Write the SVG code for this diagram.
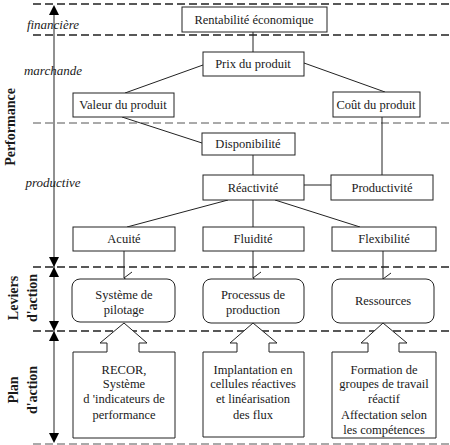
<svg xmlns="http://www.w3.org/2000/svg" width="450" height="445" viewBox="0 0 450 445" font-family="'Liberation Serif', 'DejaVu Serif', 'Times New Roman', serif">
<style>
text{font-family:'Liberation Serif','DejaVu Serif','Times New Roman',serif;fill:#1a1a1a}
.n{font-size:12.5px;text-anchor:middle}
.i{font-size:13px;font-style:italic;text-anchor:middle}
.b{font-size:14px;font-weight:bold;text-anchor:middle}
.box{fill:#fff;stroke:#222;stroke-width:1}
.ln{stroke:#222;stroke-width:1;fill:none}
.d1{stroke:#222;stroke-width:1.5;stroke-dasharray:8 4;fill:none}
.d2{stroke:#555;stroke-width:1;stroke-dasharray:8 4;fill:none}
.tri{fill:#000}
</style>
<defs>
<marker id="v" markerWidth="14" markerHeight="10" refX="7" refY="9" orient="auto-start-reverse" markerUnits="userSpaceOnUse" viewBox="0 0 14 10">
<path d="M1,1 L7,9 L13,1" fill="none" stroke="#222" stroke-width="1"/>
</marker>
</defs>
<g id="bands">
<line class="d1" x1="33" y1="4" x2="450" y2="4"/>
<line class="d1" x1="33" y1="35" x2="450" y2="35"/>
<line class="d2" x1="33" y1="123" x2="450" y2="123"/>
<line class="d1" x1="33" y1="267" x2="450" y2="267"/>
<line class="d1" x1="33" y1="331" x2="450" y2="331"/>
<line class="d2" x1="33" y1="444" x2="450" y2="444"/>
</g>
<g id="axis">
<line class="ln" x1="54" y1="12" x2="54" y2="436"/>
<path class="tri" d="M54,5 L59,15 L49,15 Z"/>
<path class="tri" d="M54,267 L59,257 L49,257 Z"/>
<path class="tri" d="M54,267 L59,277 L49,277 Z"/>
<path class="tri" d="M54,331 L59,321 L49,321 Z"/>
<path class="tri" d="M54,331 L59,341 L49,341 Z"/>
<path class="tri" d="M54,443 L59,433 L49,433 Z"/>
<text class="i" x="53" y="29">financière</text>
<text class="i" x="53" y="75">marchande</text>
<text class="i" x="53" y="187">productive</text>
<text class="b" transform="translate(15,127) rotate(-90)">Performance</text>
<text class="b" transform="translate(18,298) rotate(-90)">Leviers</text>
<text class="b" transform="translate(37,298) rotate(-90)">d'action</text>
<text class="b" transform="translate(18,390) rotate(-90)">Plan</text>
<text class="b" transform="translate(37,390) rotate(-90)">d'action</text>
</g>
<g id="connectors">
<line class="ln" x1="253" y1="32" x2="253" y2="52"/>
<line class="ln" x1="203" y1="65" x2="125" y2="93"/>
<line class="ln" x1="304" y1="63" x2="385" y2="92"/>
<line class="ln" x1="122" y1="117" x2="202" y2="143"/>
<line class="ln" x1="382" y1="117" x2="382" y2="175"/>
<line class="ln" x1="253" y1="155" x2="253" y2="175"/>
<line class="ln" x1="304" y1="185" x2="331" y2="185"/>
<line class="ln" x1="228" y1="200" x2="127" y2="227"/>
<line class="ln" x1="253" y1="200" x2="253" y2="227"/>
<line class="ln" x1="275" y1="200" x2="360" y2="227"/>
<line class="ln" x1="124" y1="251" x2="124" y2="278" marker-end="url(#v)"/>
<line class="ln" x1="253" y1="251" x2="253" y2="278" marker-end="url(#v)"/>
<line class="ln" x1="383" y1="251" x2="383" y2="279" marker-end="url(#v)"/>
</g>
<g id="rentabilite"><rect class="box" x="182" y="7" width="145" height="25"/><text class="n" x="254" y="24">Rentabilité économique</text></g>
<g id="prix"><rect class="box" x="203" y="52" width="101" height="24"/><text class="n" x="253" y="68">Prix du produit</text></g>
<g id="valeur"><rect class="box" x="73" y="93" width="101" height="24"/><text class="n" x="123" y="109">Valeur du produit</text></g>
<g id="cout"><rect class="box" x="333" y="92" width="87" height="25"/><text class="n" x="376" y="109">Coût du produit</text></g>
<g id="disponibilite"><rect class="box" x="202" y="133" width="93" height="22"/><text class="n" x="248" y="148">Disponibilité</text></g>
<g id="reactivite"><rect class="box" x="203" y="175" width="101" height="25"/><text class="n" x="253" y="192">Réactivité</text></g>
<g id="productivite"><rect class="box" x="331" y="175" width="102" height="25"/><text class="n" x="382" y="192">Productivité</text></g>
<g id="acuite"><rect class="box" x="73" y="227" width="102" height="24"/><text class="n" x="124" y="243">Acuité</text></g>
<g id="fluidite"><rect class="box" x="203" y="227" width="101" height="24"/><text class="n" x="253" y="243">Fluidité</text></g>
<g id="flexibilite"><rect class="box" x="332" y="227" width="104" height="24"/><text class="n" x="384" y="243">Flexibilité</text></g>
<g id="systeme"><rect class="box" x="72" y="279" width="103" height="43" rx="8"/><text class="n" x="124" y="299">Système de</text><text class="n" x="124" y="314">pilotage</text></g>
<g id="processus"><rect class="box" x="203" y="279" width="101" height="44" rx="8"/><text class="n" x="253" y="299">Processus de</text><text class="n" x="253" y="314">production</text></g>
<g id="ressources"><rect class="box" x="332" y="279" width="102" height="44" rx="8"/><text class="n" x="383" y="305">Ressources</text></g>
<g id="recor"><path class="box" d="M73,352 H107 V343 H100 L124,323 L147,343 H139 V352 H175 V438 H73 Z"/>
<text class="n" x="124" y="374">RECOR,</text><text class="n" x="124" y="388">Système</text><text class="n" x="124" y="403">d 'indicateurs de</text><text class="n" x="124" y="419">performance</text></g>
<g id="implantation"><path class="box" d="M203,352 H237 V343 H230 L253,323 L277,343 H269 V352 H304 V437 H203 Z"/>
<text class="n" x="253" y="374">Implantation en</text><text class="n" x="253" y="388">cellules réactives</text><text class="n" x="253" y="403">et linéarisation</text><text class="n" x="253" y="419">des flux</text></g>
<g id="formation"><path class="box" d="M332,352 H368 V343 H361 L383,323 L407,343 H399 V352 H436 V438 H332 Z"/>
<text class="n" x="384" y="374">Formation de</text><text class="n" x="384" y="388">groupes de travail</text><text class="n" x="384" y="403">réactif</text><text class="n" x="384" y="419">Affectation selon</text><text class="n" x="384" y="434">les compétences</text></g>
</svg>
